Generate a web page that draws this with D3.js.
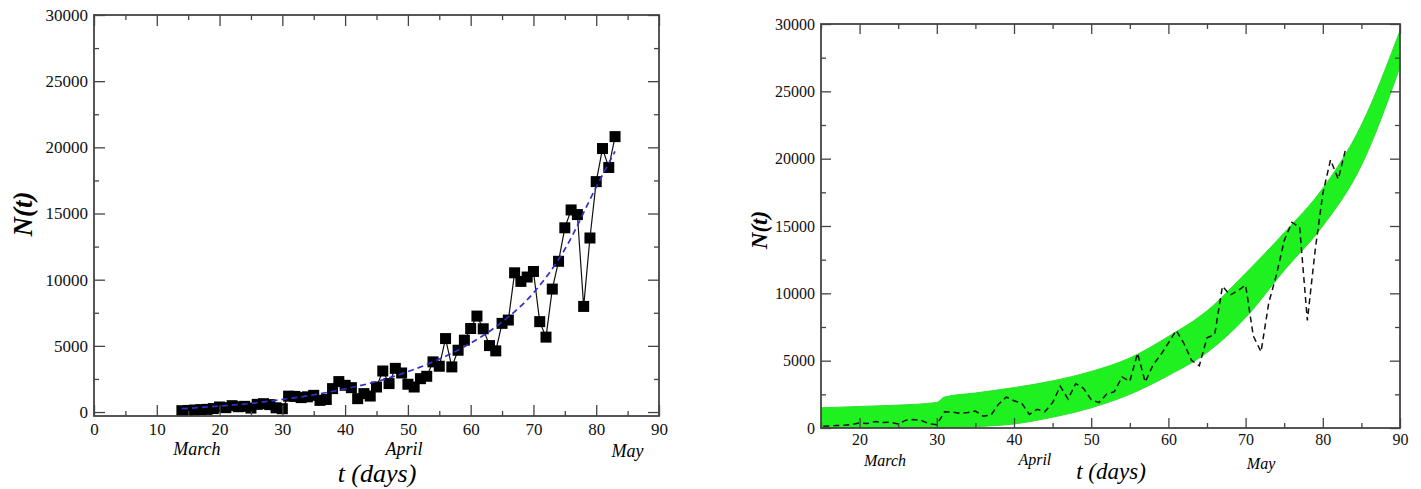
<!DOCTYPE html>
<html>
<head>
<meta charset="utf-8">
<script src="https://cdn.jsdelivr.net/npm/d3@7"></script>
<style>
  html, body { margin: 0; padding: 0; background: #fff; }
  svg { display: block; }
  .tick text { font-family: "Liberation Serif", "DejaVu Serif", serif; fill: #111; }
  .domain { display: none; }
  .tick line { stroke: #444; stroke-width: 1.3; }
</style>
</head>
<body>
<svg id="chart" width="1421" height="489"></svg>
<script>
// Daily counts N(t), one value per day (t in days)
const days = [14,15,16,17,18,19,20,21,22,23,24,25,26,27,28,29,30,31,32,33,34,35,36,37,38,39,40,
  41,42,43,44,45,46,47,48,49,50,51,52,53,54,55,56,57,58,59,60,61,62,63,64,65,66,67,68,69,70,
  71,72,73,74,75,76,77,78,79,80,81,82,83];
const counts = [100,120,150,180,200,260,380,330,480,400,430,300,580,630,560,320,250,1200,1180,1090,1150,1260,
  880,950,1770,2300,2020,1840,1010,1390,1210,1890,3100,2150,3300,2950,2100,1890,2520,2700,3790,3460,
  5550,3410,4670,5430,6310,7250,6290,5020,4620,6700,6950,10520,9870,10200,10620,6830,5660,9290,11390,
  13920,15270,14920,7980,13150,17410,19910,18480,20810];

// Smooth trend through the counts (dashed blue curve)
const trendDays = [14,20,25,30,35,40,45,50,55,60,65,70,75,80,83];
const trendVals = [250,450,650,950,1300,1750,2300,3050,4000,5200,6800,9000,12300,17000,19700];

// Simulated N(t): lower and upper extent of the fast oscillation
const simDays = [15,20,25,30,31,35,40,45,50,55,60,65,70,75,80,85,90];
const simLow  = [0,0,0,0,0,100,300,800,1500,2500,3900,5600,8200,11700,15000,19500,26800];
const simHigh = [1500,1600,1700,1900,2300,2600,3000,3500,4200,5200,6800,8700,11500,14500,17800,22500,29500];

// Axis ticks
const xMajorL = [0,10,20,30,40,50,60,70,80,90];
const xMinorL = [5,15,25,35,45,55,65,75,85];
const xMajorR = [20,30,40,50,60,70,80,90];
const xMinorR = [15,25,35,45,55,65,75,85];
const yMajor = [0,5000,10000,15000,20000,25000,30000];
const yMinor = [2500,7500,12500,17500,22500,27500];

// Month markers: [label, day]
const monthsL = [["March",16.4],["April",49.4],["May",85]];
const monthsR = [["March",23.3],["April",42.7],["May",72]];

const svg = d3.select("#chart");
const serif = '"Liberation Serif", "DejaVu Serif", serif';

function framedAxes(g, x, y, opt) {
  const [x0, x1] = x.range();
  const [y0, y1] = y.range(); // y0 bottom, y1 top
  const major = opt.major, minor = opt.minor;
  // bottom
  g.append("g").attr("transform", `translate(0,${y0})`)
    .call(d3.axisBottom(x).tickValues(opt.xMajor).tickSize(-major).tickPadding(opt.xPad))
    .selectAll("text").attr("font-size", opt.fs);
  g.append("g").attr("transform", `translate(0,${y0})`)
    .call(d3.axisBottom(x).tickValues(opt.xMinor).tickSize(-minor).tickFormat(""));
  // top
  g.append("g").attr("transform", `translate(0,${y1})`)
    .call(d3.axisTop(x).tickValues(opt.xMajor).tickSize(-major).tickFormat(""));
  g.append("g").attr("transform", `translate(0,${y1})`)
    .call(d3.axisTop(x).tickValues(opt.xMinor).tickSize(-minor).tickFormat(""));
  // left
  g.append("g").attr("transform", `translate(${x0},0)`)
    .call(d3.axisLeft(y).tickValues(yMajor).tickSize(-major).tickPadding(opt.yPad).tickFormat(d3.format("d")))
    .selectAll("text").attr("font-size", opt.fs);
  g.append("g").attr("transform", `translate(${x0},0)`)
    .call(d3.axisLeft(y).tickValues(yMinor).tickSize(-minor).tickFormat(""));
  // right
  g.append("g").attr("transform", `translate(${x1},0)`)
    .call(d3.axisRight(y).tickValues(yMajor).tickSize(-major).tickFormat(""));
  g.append("g").attr("transform", `translate(${x1},0)`)
    .call(d3.axisRight(y).tickValues(yMinor).tickSize(-minor).tickFormat(""));
  // frame
  g.append("rect")
    .attr("x", x0).attr("y", y1)
    .attr("width", x1 - x0).attr("height", y0 - y1)
    .attr("fill", "none").attr("stroke", "#444").attr("stroke-width", 1.8);
}

// ---------- Left panel: observed counts with trend ----------
const xL = d3.scaleLinear().domain([0, 90]).range([94, 659]);
const yL = d3.scaleLinear().domain([-300, 30000]).range([416, 15]);
const gL = svg.append("g");

const obs = days.map((d, i) => [d, counts[i]]);
gL.append("path")
  .datum(obs)
  .attr("fill", "none").attr("stroke", "#111").attr("stroke-width", 1.2)
  .attr("d", d3.line().x(d => xL(d[0])).y(d => yL(d[1])));

const sq = 11;
gL.selectAll("rect.pt").data(obs).join("rect")
  .attr("class", "pt")
  .attr("x", d => xL(d[0]) - sq / 2).attr("y", d => yL(d[1]) - sq / 2)
  .attr("width", sq).attr("height", sq)
  .attr("fill", "#000");

const trend = trendDays.map((d, i) => [d, trendVals[i]]);
gL.append("path")
  .datum(trend)
  .attr("fill", "none").attr("stroke", "#3030c8").attr("stroke-width", 1.7)
  .attr("stroke-dasharray", "6,4")
  .attr("d", d3.line().curve(d3.curveMonotoneX).x(d => xL(d[0])).y(d => yL(d[1])));

framedAxes(gL, xL, yL, { major: 11, minor: 5, fs: 17, xPad: 7, yPad: 6,
  xMajor: xMajorL, xMinor: xMinorL });

gL.selectAll("text.month").data(monthsL).join("text")
  .attr("class", "month")
  .attr("x", d => xL(d[1])).attr("y", (d, i) => [455, 455, 457][i])
  .attr("text-anchor", "middle")
  .attr("font-family", serif).attr("font-style", "italic").attr("font-size", 18)
  .text(d => d[0]);

gL.append("text")
  .attr("x", 377).attr("y", 482)
  .attr("text-anchor", "middle")
  .attr("font-family", serif).attr("font-style", "italic").attr("font-size", 26)
  .text("t (days)");

gL.append("text")
  .attr("transform", "translate(32,214) rotate(-90)")
  .attr("text-anchor", "middle")
  .attr("font-family", serif).attr("font-style", "italic").attr("font-weight", "bold")
  .attr("font-size", 27)
  .text("N(t)");

// ---------- Right panel: simulated N(t) against the counts ----------
const xR = d3.scaleLinear().domain([15, 90]).range([821, 1400]);
const yR = d3.scaleLinear().domain([0, 30000]).range([428, 24]);
const gR = svg.append("g");

gR.append("clipPath").attr("id", "clipR")
  .append("rect").attr("x", 821).attr("y", 24).attr("width", 579).attr("height", 404);

const plotR = gR.append("g").attr("clip-path", "url(#clipR)");

const sim = simDays.map((d, i) => ({ t: d, lo: simLow[i], hi: simHigh[i] }));
plotR.append("path")
  .datum(sim)
  .attr("fill", "#1ff01f").attr("stroke", "#33dd33").attr("stroke-width", 1)
  .attr("d", d3.area().curve(d3.curveMonotoneX)
    .x(d => xR(d.t)).y0(d => yR(d.lo)).y1(d => yR(d.hi)));

plotR.append("path")
  .datum(obs)
  .attr("fill", "none").attr("stroke", "#111").attr("stroke-width", 1.5)
  .attr("stroke-dasharray", "6,4")
  .attr("d", d3.line().x(d => xR(d[0])).y(d => yR(d[1])));

framedAxes(gR, xR, yR, { major: 10, minor: 5, fs: 16, xPad: 6, yPad: 6,
  xMajor: xMajorR, xMinor: xMinorR });

gR.selectAll("text.month").data(monthsR).join("text")
  .attr("class", "month")
  .attr("x", d => xR(d[1])).attr("y", (d, i) => [466, 465, 469][i])
  .attr("text-anchor", "middle")
  .attr("font-family", serif).attr("font-style", "italic").attr("font-size", 16)
  .text(d => d[0]);

gR.append("text")
  .attr("x", 1111).attr("y", 479)
  .attr("text-anchor", "middle")
  .attr("font-family", serif).attr("font-style", "italic").attr("font-size", 23)
  .text("t (days)");

gR.append("text")
  .attr("transform", "translate(767,230) rotate(-90)")
  .attr("text-anchor", "middle")
  .attr("font-family", serif).attr("font-style", "italic").attr("font-weight", "bold")
  .attr("font-size", 23)
  .text("N(t)");
</script>
</body>
</html>
